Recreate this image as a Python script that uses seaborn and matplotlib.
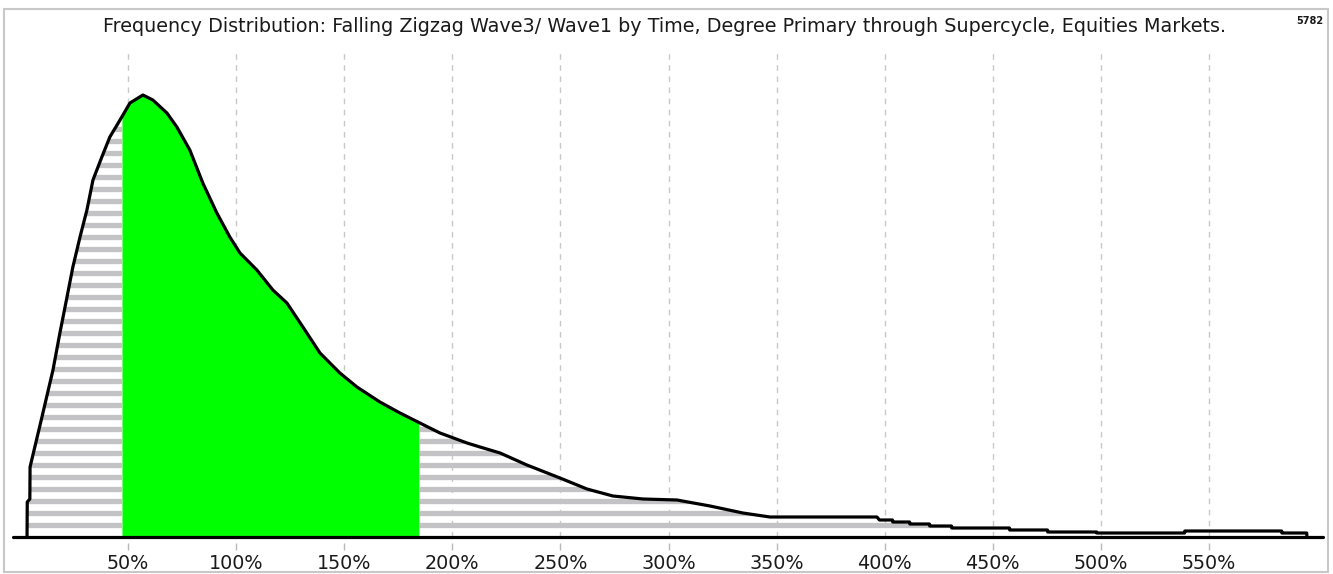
import numpy as np
import matplotlib
matplotlib.use("Agg")
import matplotlib.pyplot as plt
import seaborn as sns
from matplotlib.patches import Rectangle
from matplotlib.collections import LineCollection

# ---------------- data ----------------
ratio_pct = [3.3, 3.4, 4.6, 4.7, 6.9, 10.2, 15.3, 18.5, 21.7, 24.5, 27.8, 31.0,
             33.8, 37.9, 41.6, 46.3, 50.9, 56.9, 61.5, 68.0, 72.6, 78.6, 84.6,
             91.1, 97.1, 101.8, 109.6, 117.0, 123.5, 130.9, 138.8, 148.0, 155.9,
             166.5, 175.8, 185.0, 194.3, 206.8, 212.8, 222.1, 234.5, 249.8,
             262.3, 274.3, 288.2, 303.9, 319.2, 334.4, 346.9, 396.4, 397.6,
             403.6, 403.7, 411.5, 411.6, 420.7, 420.8, 430.9, 431.0, 457.7,
             457.8, 475.3, 475.4, 498.0, 498.1, 538.7, 538.8, 583.6, 583.7,
             595.2, 595.3]
frequency = [0, 35, 38, 70, 90, 120, 167, 204, 239, 270, 300, 327,
             357, 380, 400, 417, 434, 442, 437, 424, 410, 387, 354,
             324, 300, 284, 267, 247, 234, 210, 184, 164, 150,
             135, 124, 114, 104, 94, 90, 84, 72, 59,
             48, 41, 38, 37, 31, 24, 20, 20, 17,
             17, 15, 15, 13, 13, 11, 11, 9, 9,
             7, 7, 5, 5, 4, 4, 6, 6, 4,
             4, 0]
green_range = [47.2, 184.5]
tick_values = [50, 100, 150, 200, 250, 300, 350, 400, 450, 500, 550]
tick_labels = ["50%", "100%", "150%", "200%", "250%", "300%", "350%",
               "400%", "450%", "500%", "550%"]
title = ("Frequency Distribution: Falling Zigzag Wave3/ Wave1 by Time, "
         "Degree Primary through Supercycle, Equities Markets.")
sample_count = "5782"

# ---------------- styling ----------------
sns.set_theme(style="white")
plt.rcParams['font.family'] = ['DejaVu Sans']

W, H = 1333, 574
fig = plt.figure(figsize=(W / 100, H / 100), dpi=100)
fig.patch.set_facecolor("white")
ax = fig.add_axes([13 / W, (H - 537) / H, (1323 - 13) / W, (537 - 50) / H])
ax.set_facecolor("white")

x_left = (13 - 19.9) / 2.162
x_right = (1323 - 19.9) / 2.162
y_top = 487
ax.set_xlim(x_left, x_right)
ax.set_ylim(0, y_top)

xp = np.asarray(ratio_pct, dtype=float)
fp = np.asarray(frequency, dtype=float)

# dashed vertical grid lines
ax.vlines(tick_values, 0, y_top, colors="#c8c8c8", linestyles=(0, (4, 4)),
          lw=1.0, zorder=0)

# green central region
gx = np.linspace(green_range[0], green_range[1], 800)
gy = np.interp(gx, xp, fp)
ax.fill_between(gx, 0, gy, color="#00ff00", lw=0, zorder=2)


def striped(lo, hi):
    inner = xp[(xp > lo) & (xp < hi)]
    sx = np.concatenate([[lo], inner, [hi]])
    sy = np.interp(sx, xp, fp)
    poly = ax.fill_between(sx, 0, sy, facecolor="none", edgecolor="none")
    levels = np.arange(12, y_top, 12)
    segs = [[(lo, y), (hi, y)] for y in levels]
    lc = LineCollection(segs, colors="#c3c3c6", linewidths=3.8, zorder=1.5)
    ax.add_collection(lc)
    lc.set_clip_path(poly.get_paths()[0], ax.transData)


striped(xp[0], green_range[0])
striped(green_range[1], xp[-1])

# outline curve
sns.lineplot(x=ratio_pct, y=frequency, ax=ax, color="black", lw=2.3,
             estimator=None, sort=False, zorder=4)

# baseline
ax.axhline(0, color="black", lw=2.3, zorder=5, clip_on=False)

# tick marks (small gray, slightly below baseline)
ax.vlines(tick_values, -6, -13, colors="#b8b8b8", lw=1.0, clip_on=False)

ax.set_xticks(tick_values, tick_labels)
ax.tick_params(axis="x", length=0, pad=12, labelsize=13.8, labelcolor="#1a1a1a")
ax.set_yticks([])
for s in ax.spines.values():
    s.set_visible(False)

fig.text(665 / W, 1 - 32 / H, title, ha="center", va="baseline",
         fontsize=13.8, color="#1a1a1a")
fig.text(1323 / W, 1 - 24 / H, sample_count, ha="right", va="baseline",
         fontsize=7, fontweight="bold", color="#1a1a1a")

fig.add_artist(Rectangle((4 / W, (H - 572) / H), (1328 - 4) / W, (572 - 9) / H,
                         transform=fig.transFigure, fill=False,
                         edgecolor="#c8c8c8", lw=1.5))

fig.savefig("out.png", dpi=100)
